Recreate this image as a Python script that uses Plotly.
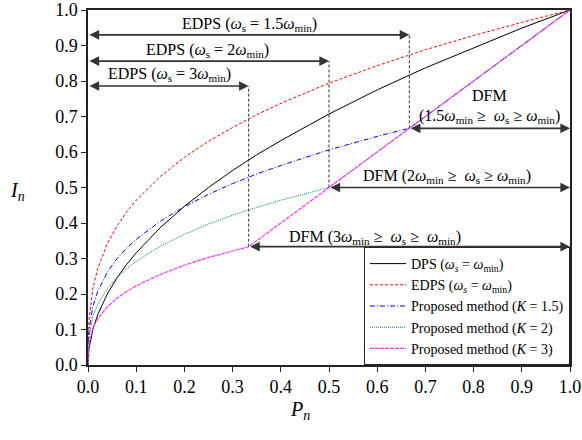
import plotly.graph_objects as go

# ---- data ----
P = [0, 0.002, 0.01, 0.02, 0.04, 0.06, 0.08, 0.1, 0.15, 0.2, 0.25, 0.3, 0.35, 0.4,
     0.5, 0.6, 0.7, 0.8, 0.9, 1.0]
dps = [0, 0.045, 0.100, 0.141, 0.200, 0.245, 0.283, 0.316, 0.387, 0.447, 0.500, 0.548,
       0.592, 0.632, 0.707, 0.775, 0.837, 0.894, 0.949, 1.0]
edps = [0, 0.126, 0.215, 0.271, 0.342, 0.391, 0.431, 0.464, 0.531, 0.585, 0.630, 0.669,
        0.705, 0.737, 0.794, 0.843, 0.888, 0.928, 0.965, 1.0]

P_k15 = [0, 0.002, 0.01, 0.02, 0.04, 0.06, 0.08, 0.1, 0.15, 0.2, 0.25, 0.3, 0.35, 0.4,
         0.5, 0.6, 0.667, 0.7, 0.8, 0.9, 1.0]
I_k15 = [0, 0.096, 0.164, 0.207, 0.261, 0.299, 0.329, 0.354, 0.405, 0.446, 0.481, 0.511,
         0.538, 0.562, 0.606, 0.644, 0.667, 0.7, 0.8, 0.9, 1.0]

P_k2 = [0, 0.002, 0.01, 0.02, 0.04, 0.06, 0.08, 0.1, 0.15, 0.2, 0.25, 0.3, 0.35, 0.4,
        0.5, 0.6, 0.7, 0.8, 0.9, 1.0]
I_k2 = [0, 0.079, 0.136, 0.171, 0.215, 0.247, 0.271, 0.292, 0.335, 0.368, 0.397, 0.422,
        0.444, 0.464, 0.5, 0.6, 0.7, 0.8, 0.9, 1.0]

P_k3 = [0, 0.002, 0.01, 0.02, 0.04, 0.06, 0.08, 0.1, 0.15, 0.2, 0.25, 0.3, 0.333, 0.4,
        0.5, 0.6, 0.7, 0.8, 0.9, 1.0]
I_k3 = [0, 0.061, 0.104, 0.130, 0.164, 0.188, 0.207, 0.223, 0.255, 0.281, 0.303, 0.322,
        0.333, 0.4, 0.5, 0.6, 0.7, 0.8, 0.9, 1.0]

K_values = [1.5, 2, 3]
edps_arrow_level = [0.930, 0.856, 0.786]   # I level of EDPS arrows for K = 1.5, 2, 3
x_ticks = [0, 0.1, 0.2, 0.3, 0.4, 0.5, 0.6, 0.7, 0.8, 0.9, 1.0]
y_ticks = [0, 0.1, 0.2, 0.3, 0.4, 0.5, 0.6, 0.7, 0.8, 0.9, 1.0]

FONT = "Liberation Serif"
W = "<i>ω</i>"
ARROW = "#333333"

fig = go.Figure()
fig.add_trace(go.Scatter(x=P, y=dps, mode="lines", line=dict(color="black", width=1),
                         name=f"DPS ({W}<sub><i>s</i></sub> = {W}<sub>min</sub>)"))
fig.add_trace(go.Scatter(x=P, y=edps, mode="lines",
                         line=dict(color="red", width=1, dash="3px,2px"),
                         name=f"EDPS ({W}<sub><i>s</i></sub> = {W}<sub>min</sub>)"))
fig.add_trace(go.Scatter(x=P_k15, y=I_k15, mode="lines",
                         line=dict(color="blue", width=1, dash="5px,2px,1px,2px"),
                         name="Proposed method (<i>K</i> = 1.5)"))
fig.add_trace(go.Scatter(x=P_k2, y=I_k2, mode="lines",
                         line=dict(color="#008080", width=1, dash="1px,1px"),
                         name="Proposed method (<i>K</i> = 2)"))
fig.add_trace(go.Scatter(x=P_k3, y=I_k3, mode="lines",
                         line=dict(color="#ff33ff", width=1.2, dash="4px,1px"),
                         name="Proposed method (<i>K</i> = 3)"))

# vertical dashed connectors and arrows
for K, lvl in zip(K_values, edps_arrow_level):
    b = 1.0 / K
    fig.add_shape(type="line", x0=b, x1=b, y0=b, y1=lvl, xref="x", yref="y",
                  line=dict(color=ARROW, width=1, dash="3px,2px"))
    fig.add_annotation(x=b, y=lvl, ax=0, ay=lvl, xref="x", yref="y", axref="x", ayref="y",
                       showarrow=True, arrowhead=2, startarrowhead=2, arrowside="end+start",
                       arrowwidth=1.6, arrowsize=1.2, startarrowsize=1.2, arrowcolor=ARROW, text="")
    fig.add_annotation(x=1.0, y=b, ax=b, ay=b, xref="x", yref="y", axref="x", ayref="y",
                       showarrow=True, arrowhead=2, startarrowhead=2, arrowside="end+start",
                       arrowwidth=1.6, arrowsize=1.2, startarrowsize=1.2, arrowcolor=ARROW, text="")

labels = [
    (0.336, 0.958, f"EDPS ({W}<sub>s</sub> = 1.5{W}<sub>min</sub>)"),
    (0.247, 0.887, f"EDPS ({W}<sub>s</sub> = 2{W}<sub>min</sub>)"),
    (0.170, 0.817, f"EDPS ({W}<sub>s</sub> = 3{W}<sub>min</sub>)"),
    (0.834, 0.758, "DFM"),
    (0.832, 0.700, f"(1.5{W}<sub>min</sub> ≥  {W}<sub>s</sub> ≥ {W}<sub>min</sub>)"),
    (0.745, 0.530, f"DFM (2{W}<sub>min</sub> ≥  {W}<sub>s</sub> ≥ {W}<sub>min</sub>)"),
    (0.595, 0.360, f"DFM (3{W}<sub>min</sub> ≥  {W}<sub>s</sub> ≥  {W}<sub>min</sub>)"),
]
for x, y, t in labels:
    fig.add_annotation(x=x, y=y, xref="x", yref="y", text=t, showarrow=False,
                       font=dict(family=FONT, size=16, color="black"))

fig.add_annotation(x=-0.165, y=0.49, xref="paper", yref="paper", text="<i>I</i><sub><i>n</i></sub>",
                   showarrow=False, font=dict(family=FONT, size=20, color="black"))
fig.add_annotation(x=0.44, y=-0.17, xref="paper", yref="paper", text="<i>P</i><sub><i>n</i></sub>",
                   showarrow=False, font=dict(family=FONT, size=20, color="black"))

axis_common = dict(showgrid=False, zeroline=False, showline=True, linecolor="#222222", linewidth=1.5,
                   mirror=True, ticks="outside", ticklen=5, tickcolor="#222222", tickwidth=1.2,
                   automargin=False,
                   tickformat=".1f", tickfont=dict(family=FONT, size=18, color="black"))
fig.update_xaxes(range=[0, 1], tickvals=x_ticks, **axis_common)
fig.update_yaxes(range=[0, 1], tickvals=y_ticks, **axis_common)

fig.update_layout(
    width=582, height=440,
    margin=dict(l=88, r=12, t=10, b=75, autoexpand=False),
    plot_bgcolor="white", paper_bgcolor="white",
    showlegend=True,
    legend=dict(x=1, y=0, xanchor="right", yanchor="bottom",
                bordercolor="#222222", borderwidth=1, bgcolor="white",
                font=dict(family=FONT, size=14, color="black"),
                tracegroupgap=0, itemwidth=36),
)

fig.write_html("out.html", config={"displayModeBar": False},
               post_script="document.body.style.margin='0px';")
